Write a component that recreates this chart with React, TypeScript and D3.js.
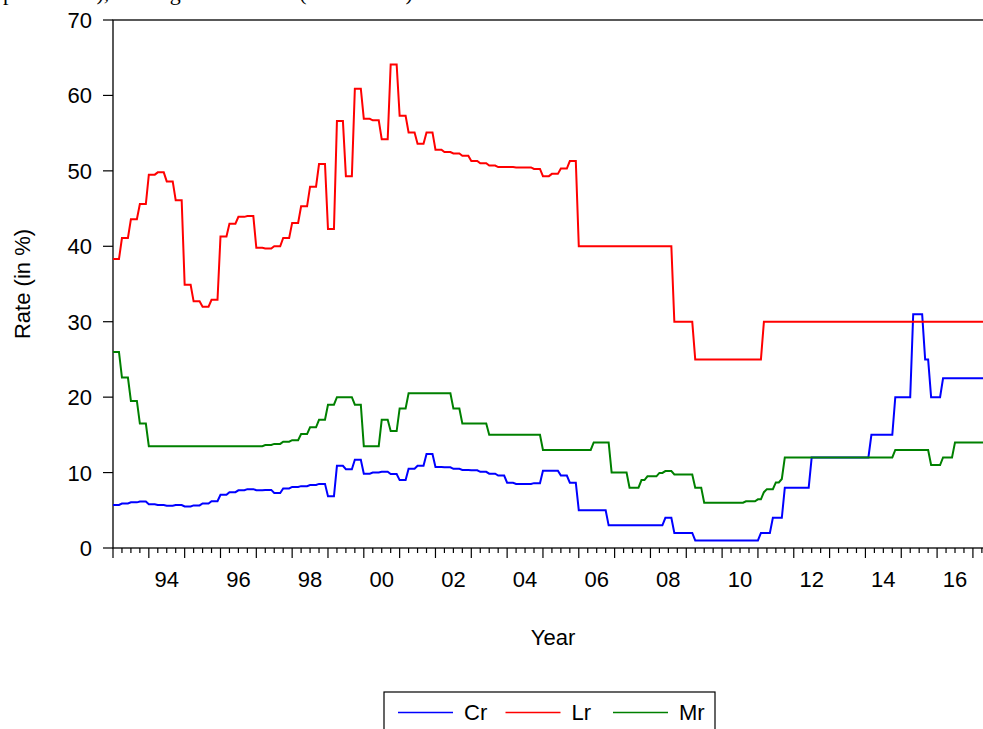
import React from "react";
import * as d3 from "d3";

// Monthly data encoded as change points: [month, value] — value holds until next change
const crChanges: [string, number][] = [
  ["1993-01", 5.7], ["1993-04", 5.9], ["1993-07", 6.05], ["1993-10", 6.15],
  ["1994-01", 5.8], ["1994-04", 5.7], ["1994-07", 5.6], ["1994-10", 5.7],
  ["1995-01", 5.5], ["1995-04", 5.65], ["1995-07", 5.9], ["1995-10", 6.2],
  ["1996-01", 7.05], ["1996-04", 7.4], ["1996-07", 7.65], ["1996-10", 7.8],
  ["1997-01", 7.65], ["1997-04", 7.7], ["1997-07", 7.3], ["1997-10", 7.9],
  ["1998-01", 8.1], ["1998-04", 8.2], ["1998-07", 8.35], ["1998-10", 8.5],
  ["1999-01", 6.85], ["1999-04", 10.9], ["1999-07", 10.45], ["1999-10", 11.7],
  ["2000-01", 9.85], ["2000-04", 10.0], ["2000-07", 10.1], ["2000-10", 9.8],
  ["2001-01", 9.0], ["2001-04", 10.5], ["2001-07", 10.9], ["2001-10", 12.45],
  ["2002-01", 10.75], ["2002-04", 10.7], ["2002-07", 10.5], ["2002-10", 10.35],
  ["2003-01", 10.3], ["2003-04", 10.1], ["2003-07", 9.85], ["2003-10", 9.6],
  ["2004-01", 8.65], ["2004-04", 8.5], ["2004-10", 8.6],
  ["2005-01", 10.25], ["2005-07", 9.6], ["2005-10", 8.65],
  ["2006-01", 5.0], ["2006-11", 3.0], ["2008-06", 4.0], ["2008-09", 2.0],
  ["2009-04", 1.0], ["2011-02", 2.0], ["2011-06", 4.0], ["2011-10", 8.0],
  ["2012-07", 12.0], ["2014-03", 15.0], ["2014-11", 20.0], ["2015-05", 31.0],
  ["2015-09", 25.0], ["2015-11", 20.0], ["2016-03", 22.5],
];

const lrChanges: [string, number][] = [
  ["1993-01", 38.3], ["1993-04", 41.1], ["1993-07", 43.6], ["1993-10", 45.6],
  ["1994-01", 49.5], ["1994-04", 49.8], ["1994-07", 48.6], ["1994-10", 46.1],
  ["1995-01", 34.9], ["1995-04", 32.7], ["1995-07", 32.0], ["1995-10", 32.9],
  ["1996-01", 41.3], ["1996-04", 43.0], ["1996-07", 43.9], ["1996-10", 44.0],
  ["1997-01", 39.8], ["1997-04", 39.7], ["1997-07", 40.0], ["1997-10", 41.1],
  ["1998-01", 43.1], ["1998-04", 45.3], ["1998-07", 47.9], ["1998-10", 50.9],
  ["1999-01", 42.3], ["1999-04", 56.6], ["1999-07", 49.3], ["1999-10", 60.9],
  ["2000-01", 56.9], ["2000-04", 56.7], ["2000-07", 54.2], ["2000-10", 64.1],
  ["2001-01", 57.3], ["2001-04", 55.1], ["2001-07", 53.6], ["2001-10", 55.1],
  ["2002-01", 52.8], ["2002-04", 52.5], ["2002-07", 52.3], ["2002-10", 52.0],
  ["2003-01", 51.3], ["2003-04", 51.0], ["2003-07", 50.7], ["2003-10", 50.5],
  ["2004-04", 50.45], ["2004-10", 50.25],
  ["2005-01", 49.3], ["2005-04", 49.6], ["2005-07", 50.3], ["2005-10", 51.3],
  ["2006-01", 40.0], ["2008-09", 30.0], ["2009-04", 25.0], ["2011-03", 30.0],
];

const mrChanges: [string, number][] = [
  ["1993-01", 26.0], ["1993-04", 22.6], ["1993-07", 19.5], ["1993-10", 16.5],
  ["1994-01", 13.5], ["1997-04", 13.65], ["1997-07", 13.8], ["1997-10", 14.1],
  ["1998-01", 14.3], ["1998-04", 15.1], ["1998-07", 16.0], ["1998-10", 17.0],
  ["1999-01", 19.0], ["1999-04", 20.0], ["1999-10", 19.0],
  ["2000-01", 13.5], ["2000-07", 17.0], ["2000-10", 15.5],
  ["2001-01", 18.5], ["2001-04", 20.5], ["2002-07", 18.5], ["2002-10", 16.5],
  ["2003-07", 15.0], ["2005-01", 13.0], ["2006-06", 14.0], ["2006-12", 10.0],
  ["2007-06", 8.0], ["2007-10", 9.0], ["2007-12", 9.5], ["2008-04", 9.95],
  ["2008-06", 10.2], ["2008-09", 9.75], ["2009-04", 8.0], ["2009-07", 6.0],
  ["2010-09", 6.2], ["2011-01", 6.45], ["2011-03", 7.4], ["2011-04", 7.8],
  ["2011-07", 8.7], ["2011-09", 9.15], ["2011-10", 12.0], ["2014-11", 13.0],
  ["2015-11", 11.0], ["2016-03", 12.0], ["2016-07", 14.0],
];

const END_MONTH = "2017-05";
const seriesNames = ["Cr", "Lr", "Mr"];
const seriesColors = ["#0000FF", "#FF0000", "#008000"];
const yTicks = [0, 10, 20, 30, 40, 50, 60, 70];
const xLabelYears = [1994, 1996, 1998, 2000, 2002, 2004, 2006, 2008, 2010, 2012, 2014, 2016];

const monthIndex = (s: string) => {
  const [y, m] = s.split("-").map(Number);
  return (y - 1993) * 12 + (m - 1);
};

function expand(changes: [string, number][]) {
  const end = monthIndex(END_MONTH);
  const pts: { t: number; v: number }[] = [];
  let ci = 0;
  for (let m = monthIndex(changes[0][0]); m <= end; m++) {
    while (ci + 1 < changes.length && monthIndex(changes[ci + 1][0]) <= m) ci++;
    pts.push({ t: 1993 + m / 12, v: changes[ci][1] });
  }
  return pts;
}

export default function App() {
  const W = 983, H = 729;
  const left = 113, top = 20, bottom = 548;
  const x = d3.scaleLinear().domain([1993, 2017.5]).range([left, left + 24.5 * 35.83]);
  const y = d3.scaleLinear().domain([0, 70]).range([bottom, top]);
  const line = d3.line<{ t: number; v: number }>().x(d => x(d.t)).y(d => y(d.v));
  const data = [expand(crChanges), expand(lrChanges), expand(mrChanges)];
  const right = x(2017.5);
  const quarters = d3.range(1993, 2017.5 + 1e-9, 0.25);
  const font = "'Liberation Sans', Arial, sans-serif";

  return (
    <svg width={W} height={H} style={{ position: "absolute", left: 0, top: 0, background: "#fff" }}>
      <rect x={0} y={0} width={W} height={H} fill="#fff" />
      <text x={3} y={-0.5} fontFamily="'Liberation Serif', 'Times New Roman', serif" fontSize={22} fill="#000">
        per annum), lending and call rate (1993–2016)
      </text>
      {/* plot frame */}
      <rect x={left} y={top} width={right - left} height={bottom - top} fill="none" stroke="#000" strokeWidth={1.3} />
      {/* y ticks */}
      {yTicks.map(t => (
        <g key={t}>
          <line x1={left - 10} x2={left} y1={y(t)} y2={y(t)} stroke="#000" strokeWidth={1.2} />
          <text x={92} y={y(t) + 8} textAnchor="end" fontFamily={font} fontSize={22} fill="#000">{t}</text>
        </g>
      ))}
      {/* x ticks */}
      {quarters.map((q, i) => {
        const major = Math.abs(q - Math.round(q)) < 1e-9;
        return (
          <line key={i} x1={x(q)} x2={x(q)} y1={bottom} y2={bottom + (major ? 10 : 5)} stroke="#000" strokeWidth={1.2} />
        );
      })}
      {xLabelYears.map(yr => (
        <text key={yr} x={x(yr + 0.5)} y={587} textAnchor="middle" fontFamily={font} fontSize={22} fill="#000">
          {String(yr % 100).padStart(2, "0")}
        </text>
      ))}
      {/* series */}
      {data.map((d, i) => (
        <path key={i} d={line(d) || ""} fill="none" stroke={seriesColors[i]} strokeWidth={2} strokeLinejoin="miter" />
      ))}
      {/* axis titles */}
      <text transform={`translate(30,${(top + bottom) / 2}) rotate(-90)`} textAnchor="middle" fontFamily={font} fontSize={22} fill="#000">
        Rate (in %)
      </text>
      <text x={553} y={645} textAnchor="middle" fontFamily={font} fontSize={22} fill="#000">Year</text>
      {/* legend */}
      <rect x={384} y={692} width={331} height={60} fill="#fff" stroke="#000" strokeWidth={1.2} />
      {seriesNames.map((n, i) => {
        const lx = 398 + i * 107.5;
        return (
          <g key={n}>
            <line x1={lx} x2={lx + 55} y1={712.5} y2={712.5} stroke={seriesColors[i]} strokeWidth={1.5} />
            <text x={lx + 66} y={720} fontFamily={font} fontSize={22} fill="#000">{n}</text>
          </g>
        );
      })}
    </svg>
  );
}
